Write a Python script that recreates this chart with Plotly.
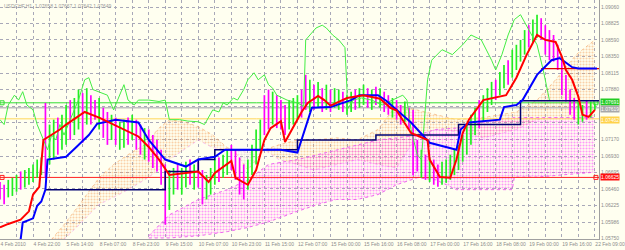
import plotly.graph_objects as go

# ---------------- data ----------------
date_labels = ["4 Feb 2010", "4 Feb 22:00", "5 Feb 14:00", "8 Feb 07:00", "8 Feb 23:00",
               "9 Feb 15:00", "10 Feb 07:00", "10 Feb 23:00", "11 Feb 15:00", "12 Feb 07:00",
               "15 Feb 00:00", "15 Feb 16:00", "16 Feb 08:00", "17 Feb 00:00", "17 Feb 16:00",
               "18 Feb 08:00", "19 Feb 00:00", "19 Feb 16:00", "22 Feb 09:00"]
price_ticks = [1.09060, 1.08825, 1.08590, 1.08350, 1.08115, 1.07880, 1.07645, 1.07410,
               1.07170, 1.06930, 1.06695, 1.06460, 1.06225, 1.05986, 1.05750]
hidden_ticks = [1.07645, 1.07410]   # covered by the price-line labels

# price bars (every second hour bar)
bar_x = list(range(0, 290, 2))
bar_high = [1.0656, 1.0652, 1.0659, 1.0662, 1.0666, 1.0671, 1.0673, 1.0676, 1.0681, 1.0688,
            1.0691, 1.0769, 1.0738, 1.0745, 1.0748, 1.0752, 1.0766, 1.0773, 1.0776, 1.0788,
            1.0783, 1.0790, 1.0780, 1.0773, 1.0776, 1.0762, 1.0756, 1.0752, 1.0748, 1.0742,
            1.0745, 1.0748, 1.0752, 1.0745, 1.0738, 1.0733, 1.0731, 1.0723, 1.0716, 1.0702,
            1.0681, 1.0673, 1.0676, 1.0681, 1.0676, 1.0685, 1.0688, 1.0681, 1.0685, 1.0673,
            1.0666, 1.0676, 1.0688, 1.0691, 1.0695, 1.0702, 1.0709, 1.0702, 1.0691, 1.0681,
            1.0688, 1.0709, 1.0731, 1.0745, 1.0780, 1.0788, 1.0785, 1.0780, 1.0773, 1.0766,
            1.0773, 1.0776, 1.0780, 1.0788, 1.0809, 1.0802, 1.0795, 1.0799, 1.0790, 1.0795,
            1.0788, 1.0790, 1.0788, 1.0785, 1.0780, 1.0785, 1.0788, 1.0790, 1.0795, 1.0790,
            1.0788, 1.0792, 1.0790, 1.0785, 1.0780, 1.0776, 1.0773, 1.0766, 1.0771, 1.0762,
            1.0759, 1.0716, 1.0702, 1.0695, 1.0691, 1.0688, 1.0681, 1.0685, 1.0688, 1.0695,
            1.0702, 1.0709, 1.0723, 1.0738, 1.0752, 1.0762, 1.0773, 1.0780, 1.0790, 1.0799,
            1.0802, 1.0813, 1.0823, 1.0830, 1.0845, 1.0852, 1.0859, 1.0873, 1.0880, 1.0888,
            1.0895, 1.0890, 1.0880, 1.0873, 1.0866, 1.0852, 1.0830, 1.0809, 1.0788, 1.0776,
            1.0773, 1.0766, 1.0773, 1.0771, 1.0768]
bar_low = [1.0631, 1.0624, 1.0634, 1.0636, 1.0642, 1.0645, 1.0648, 1.0652, 1.0656, 1.0662,
           1.0666, 1.0662, 1.0681, 1.0688, 1.0695, 1.0702, 1.0709, 1.0716, 1.0723, 1.0731,
           1.0712, 1.0738, 1.0738, 1.0745, 1.0731, 1.0719, 1.0709, 1.0716, 1.0709, 1.0702,
           1.0705, 1.0709, 1.0716, 1.0702, 1.0695, 1.0688, 1.0685, 1.0676, 1.0671, 1.0652,
           1.0595, 1.0616, 1.0638, 1.0645, 1.0638, 1.0648, 1.0652, 1.0645, 1.0648, 1.0624,
           1.0631, 1.0638, 1.0652, 1.0656, 1.0662, 1.0666, 1.0673, 1.0659, 1.0638, 1.0631,
           1.0645, 1.0666, 1.0681, 1.0702, 1.0723, 1.0731, 1.0738, 1.0733, 1.0731, 1.0723,
           1.0731, 1.0738, 1.0745, 1.0748, 1.0759, 1.0756, 1.0759, 1.0762, 1.0756, 1.0759,
           1.0756, 1.0762, 1.0759, 1.0756, 1.0752, 1.0756, 1.0759, 1.0762, 1.0766, 1.0762,
           1.0759, 1.0766, 1.0762, 1.0756, 1.0752, 1.0748, 1.0745, 1.0738, 1.0742, 1.0731,
           1.0666, 1.0671, 1.0662, 1.0659, 1.0656, 1.0652, 1.0649, 1.0652, 1.0655, 1.0659,
           1.0666, 1.0673, 1.0685, 1.0695, 1.0709, 1.0723, 1.0733, 1.0742, 1.0756, 1.0766,
           1.0773, 1.0780, 1.0790, 1.0795, 1.0805, 1.0816, 1.0828, 1.0838, 1.0848, 1.0856,
           1.0862, 1.0859, 1.0838, 1.0830, 1.0828, 1.0816, 1.0780, 1.0771, 1.0752, 1.0745,
           1.0738, 1.0742, 1.0745, 1.0748, 1.0759]
bar_dir = "".join([
    "dduuuduuuuuduuduuduu",
    "duddudduduududdudddd",
    "duuduududduuuduudddd",
    "uuuudduddduuuddududu",
    "duuduuduudududduddud",
    "ddududduuuuuuuuuduuu",
    "duuduuuuduuddddddddd",
    "uuduu",
])

# Tenkan-sen (red)
tenkan_x = [0, 4, 10, 14, 16, 19, 21, 29, 32, 41, 48, 67, 72, 77, 82, 96, 101, 104, 112, 114,
            120, 124, 126, 128, 131, 136, 138, 144, 146, 149, 154, 157, 160, 168, 176, 184,
            189, 192, 199, 207, 208, 213, 218, 221, 224, 227, 231, 234, 245, 250, 255, 260,
            264, 269, 272, 274, 277, 280, 282, 285, 288]
tenkan_y = [1.0591, 1.0596, 1.0602, 1.0614, 1.0638, 1.0649, 1.0716, 1.0731, 1.0738, 1.0756,
            1.0748, 1.0721, 1.0706, 1.0688, 1.0666, 1.0671, 1.0656, 1.0669, 1.0686, 1.0662,
            1.0652, 1.0673, 1.0695, 1.0716, 1.0733, 1.0743, 1.0713, 1.0745, 1.0756, 1.0769,
            1.0779, 1.0773, 1.0765, 1.0776, 1.0780, 1.0775, 1.0762, 1.0758, 1.0726, 1.0716,
            1.0688, 1.0663, 1.0662, 1.0688, 1.0726, 1.0745, 1.0762, 1.0773, 1.0780, 1.0805,
            1.0838, 1.0866, 1.0859, 1.0856, 1.0835, 1.0816, 1.0802, 1.0778, 1.0752, 1.0749,
            1.0759]

# Kijun-sen (blue)
kijun_x = [10, 11, 16, 18, 20, 22, 23, 32, 37, 43, 47, 56, 67, 72, 80, 90, 96, 104, 109,
           136, 144, 149, 151, 160, 170, 174, 183, 187, 192, 199, 208, 221, 223, 227, 242,
           244, 250, 253, 260, 267, 271, 274, 277, 280, 289]
kijun_y = [1.0574, 1.0598, 1.0604, 1.0622, 1.0628, 1.0645, 1.0688, 1.0692, 1.0706, 1.0723,
           1.0739, 1.0745, 1.0741, 1.0716, 1.0688, 1.0678, 1.0688, 1.0692, 1.0702, 1.0702,
           1.0698, 1.0745, 1.0762, 1.0763, 1.0773, 1.0780, 1.0780, 1.0772, 1.0759, 1.0741,
           1.0712, 1.0702, 1.0731, 1.0741, 1.0745, 1.0763, 1.0766, 1.0773, 1.0809, 1.0830,
           1.0833, 1.0827, 1.0820, 1.0818, 1.0818]

# long-period base line (navy)
navy_x = [22, 80, 80, 96, 96, 104, 104, 144, 144, 182, 182, 222, 222, 252, 252, 290]
navy_y = [1.0645, 1.0645, 1.0671, 1.0671, 1.0688, 1.0688, 1.0702, 1.0702, 1.0716, 1.0716,
          1.0723, 1.0723, 1.0738, 1.0738, 1.0772, 1.0772]

# long-period conversion line (thin red)
red2_x = [262, 290]
red2_y = [1.0818, 1.0818]

# Chikou span (lime)
chikou_x = [0, 2, 4, 7, 9, 11, 13, 16, 18, 21, 23, 25, 27, 29, 31, 34, 36, 38, 41, 43, 45,
            48, 52, 55, 58, 60, 62, 65, 67, 72, 77, 80, 82, 87, 91, 96, 99, 101, 103, 106,
            108, 110, 113, 115, 118, 120, 123, 125, 128, 130, 132, 134, 139, 144, 147, 148,
            150, 153, 156, 158, 161, 164, 167, 168, 168, 171, 175, 180, 185, 190, 195, 197,
            199, 202, 204, 207, 209, 214, 219, 224, 228, 233, 238, 240, 243, 246, 249, 252,
            256, 260, 263, 266]
chikou_y = [1.0745, 1.0738, 1.0766, 1.0780, 1.0773, 1.0785, 1.0766, 1.0759, 1.0738, 1.0716,
            1.0702, 1.0723, 1.0716, 1.0738, 1.0723, 1.0745, 1.0759, 1.0773, 1.0802, 1.0805,
            1.0788, 1.0785, 1.0780, 1.0759, 1.0780, 1.0795, 1.0773, 1.0766, 1.0773, 1.0773,
            1.0771, 1.0773, 1.0745, 1.0745, 1.0743, 1.0742, 1.0738, 1.0748, 1.0759, 1.0756,
            1.0769, 1.0766, 1.0776, 1.0773, 1.0788, 1.0802, 1.0812, 1.0802, 1.0809, 1.0795,
            1.0790, 1.0780, 1.0773, 1.0769, 1.0764, 1.0859, 1.0866, 1.0876, 1.0880, 1.0876,
            1.0866, 1.0859, 1.0848, 1.0788, 1.0759, 1.0773, 1.0776, 1.0773, 1.0766, 1.0773,
            1.0780, 1.0773, 1.0731, 1.0695, 1.0688, 1.0802, 1.0830, 1.0845, 1.0838, 1.0852,
            1.0866, 1.0859, 1.0830, 1.0816, 1.0838, 1.0866, 1.0888, 1.0895, 1.0873, 1.0852,
            1.0816, 1.0773]

# Kumo 1 (Senkou span A / B)
kumo_x = [25, 31, 37, 43, 48, 55, 62, 70, 77, 82, 89, 96, 103, 110, 113, 120, 128, 135, 144,
          152, 163, 173, 183, 192, 202, 211, 221, 234, 250, 260, 269, 279, 288]
senkou_a = [1.0574, 1.0595, 1.0618, 1.0642, 1.0662, 1.0681, 1.0695, 1.0709, 1.0733, 1.0745,
            1.0742, 1.0735, 1.0723, 1.0705, 1.0702, 1.0673, 1.0702, 1.0709, 1.0716, 1.0716,
            1.0719, 1.0716, 1.0731, 1.0766, 1.0759, 1.0752, 1.0745, 1.0748, 1.0756, 1.0773,
            1.0802, 1.0838, 1.0859]
senkou_b = [1.0574, 1.0574, 1.0591, 1.0609, 1.0624, 1.0634, 1.0645, 1.0659, 1.0673, 1.0688,
            1.0702, 1.0716, 1.0705, 1.0702, 1.0702, 1.0698, 1.0702, 1.0688, 1.0681, 1.0673,
            1.0681, 1.0688, 1.0681, 1.0676, 1.0723, 1.0731, 1.0728, 1.0719, 1.0731, 1.0745,
            1.0748, 1.0748, 1.0748]

# Kumo 2 (long-period cloud, magenta)
kumo2_x = [72, 82, 96, 110, 120, 130, 144, 154, 163, 173, 183, 192, 202, 211, 221, 240, 248,
           249, 260, 288]
kumo2_top = [1.0579, 1.0609, 1.0631, 1.0645, 1.0659, 1.0681, 1.0688, 1.0695, 1.0702, 1.0709,
             1.0716, 1.0719, 1.0723, 1.0731, 1.0733, 1.0745, 1.0748, 1.0748, 1.0748, 1.0748]
kumo2_bot = [1.0576, 1.0576, 1.0579, 1.0585, 1.0591, 1.0599, 1.0614, 1.0624, 1.0631, 1.0631,
             1.0638, 1.0652, 1.0662, 1.0659, 1.0645, 1.0645, 1.0645, 1.0663, 1.0663, 1.0670]

# horizontal levels
level_green = 1.07691
level_gray = 1.07619
level_yellow = 1.07462
level_red = 1.06625
header = "USDCHF,H1  1.07658 1.07667 1.07642 1.07649"

# ---------------- figure ----------------
X_MAX = 290
fig = go.Figure()

# cloud 1
upper1 = [max(a, b) for a, b in zip(senkou_a, senkou_b)]
fig.add_trace(go.Scatter(x=kumo_x, y=senkou_b, mode="lines",
                         line=dict(color="rgba(238,130,238,0.5)", width=1, dash="dot")))
fig.add_trace(go.Scatter(x=kumo_x, y=upper1, mode="lines", line=dict(width=0),
                         fill="tonexty", fillcolor="rgba(0,0,0,0)",
                         fillpattern=dict(shape=".", fgcolor="#F4A460", size=3, solidity=0.4)))
fig.add_trace(go.Scatter(x=kumo_x, y=senkou_a, mode="lines",
                         line=dict(color="rgba(244,164,96,0.6)", width=1, dash="dot")))
fig.add_trace(go.Scatter(x=kumo_x, y=upper1, mode="lines", line=dict(width=0),
                         fill="tonexty", fillcolor="rgba(0,0,0,0)",
                         fillpattern=dict(shape=".", fgcolor="#D8BFD8", size=3, solidity=0.4)))
# cloud 2
fig.add_trace(go.Scatter(x=kumo2_x, y=kumo2_bot, mode="lines",
                         line=dict(color="#EE66EE", width=1, dash="dot")))
fig.add_trace(go.Scatter(x=kumo2_x, y=kumo2_top, mode="lines",
                         line=dict(color="#EE66EE", width=1, dash="dot"),
                         fill="tonexty", fillcolor="rgba(0,0,0,0)",
                         fillpattern=dict(shape=".", fgcolor="#FF33FF", size=3, solidity=0.4)))

# levels
for lv, col in [(level_green, "#33DD33"), (level_gray, "#A0A0A8"),
                (level_yellow, "#FFD75A"), (level_red, "#FF2020")]:
    fig.add_trace(go.Scatter(x=[0, X_MAX], y=[lv, lv], mode="lines",
                             line=dict(color=col, width=1)))
fig.add_trace(go.Scatter(x=[1, 1, 288.5, 288.5], y=[level_green, level_red, level_green, level_red],
                         mode="markers",
                         marker=dict(symbol="square-open", size=4,
                                     color=["#33DD33", "#FF2020", "#33DD33", "#FF2020"],
                                     line=dict(width=1))))

# price bars
up_x, up_y, dn_x, dn_y = [], [], [], []
for x, h, l, d in zip(bar_x, bar_high, bar_low, bar_dir):
    if d == "u":
        up_x += [x, x, None]; up_y += [l, h, None]
    else:
        dn_x += [x, x, None]; dn_y += [l, h, None]
fig.add_trace(go.Scatter(x=up_x, y=up_y, mode="lines", line=dict(color="#22EE22", width=1.7)))
fig.add_trace(go.Scatter(x=dn_x, y=dn_y, mode="lines", line=dict(color="#FF00FF", width=1.7)))

# lines
fig.add_trace(go.Scatter(x=chikou_x, y=chikou_y, mode="lines", line=dict(color="#44EE44", width=1)))
fig.add_trace(go.Scatter(x=navy_x, y=navy_y, mode="lines", line=dict(color="#000070", width=1.5)))
fig.add_trace(go.Scatter(x=red2_x, y=red2_y, mode="lines", line=dict(color="#E00000", width=1.2)))
fig.add_trace(go.Scatter(x=kijun_x, y=kijun_y, mode="lines", line=dict(color="#0000FF", width=2)))
fig.add_trace(go.Scatter(x=tenkan_x, y=tenkan_y, mode="lines", line=dict(color="#FF0000", width=2)))

# axis ticks
tickvals_x = list(range(0, X_MAX, 8))
ticktext_x = [date_labels[i // 2] if i % 2 == 0 else "" for i in range(len(tickvals_x))]
ticktext_y = ["" if v in hidden_ticks else "%.5f" % v for v in price_ticks]

fig.update_layout(
    width=625, height=250,
    margin=dict(l=0, r=21, t=0, b=11),
    paper_bgcolor="#FFFFF0", plot_bgcolor="#FFFFF0",
    showlegend=False,
    font=dict(family="Liberation Sans, Arial, sans-serif", size=5, color="#8C8C8C"),
    xaxis=dict(range=[0, X_MAX], tickvals=tickvals_x, ticktext=ticktext_x, tickangle=0,
               ticklabelposition="outside right", ticklabeloverflow="allow",
               ticks="", showgrid=True,
               gridcolor="#A8A8B8", griddash="dot", gridwidth=1, zeroline=False,
               showline=True, linecolor="#A0A0A0", linewidth=1,
               tickfont=dict(size=5, color="#8C8C8C")),
    yaxis=dict(range=[1.05745, 1.09160], side="right", tickvals=price_ticks,
               ticktext=ticktext_y, ticks="",
               showgrid=True, gridcolor="#A8A8B8", griddash="dot", gridwidth=1,
               zeroline=False, showline=True, linecolor="#A0A0A0", linewidth=1,
               tickfont=dict(size=5, color="#8C8C8C")),
)

for lv, bg, shift in [(level_green, "#22CC22", 1), (level_gray, "#A8A8A8", -1),
                      (level_yellow, "#FFD24A", -1), (level_red, "#FF1010", 0)]:
    fig.add_annotation(x=1, xref="paper", y=lv, yref="y", text="%.5f" % lv, showarrow=False,
                       xanchor="left", xshift=1, yshift=shift, bgcolor=bg,
                       font=dict(size=5, color="#FFFFFF"), borderpad=0)

fig.add_annotation(x=0, xref="paper", y=1, yref="paper", text=header, showarrow=False,
                   xanchor="left", yanchor="top", xshift=2, yshift=-1,
                   font=dict(size=5, color="#9A9A9A"))

fig.write_html("out.html")
